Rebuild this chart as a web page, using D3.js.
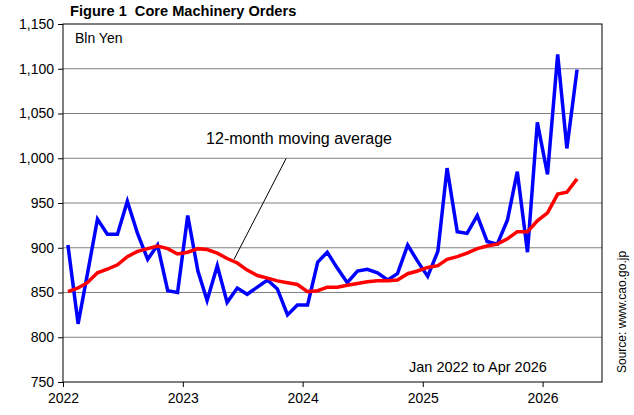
<!DOCTYPE html>
<html>
<head>
<meta charset="utf-8">
<script src="https://cdn.jsdelivr.net/npm/d3@7"></script>
<style>
  body { margin: 0; background: #fff; }
  svg { font-family: "Liberation Sans", Arial, sans-serif; }
</style>
</head>
<body>
<svg id="chart" width="634" height="415"></svg>
<script>
// monthly core machinery orders, Jan 2022 .. Apr 2026 (bln yen)
var months = d3.timeMonth.range(new Date(2022, 0, 1), new Date(2026, 4, 1));
var orders = [903, 815, 870, 932, 915, 915, 952, 916, 887, 903, 852, 850,
              936, 874, 841, 880, 839, 855, 848, 856, 864, 854, 825, 836,
              836, 884, 895, 877, 861, 874, 876, 872, 864, 871, 903, 885,
              868, 896, 989, 918, 916, 936, 907, 904, 931, 985, 895, 1040,
              982, 1116, 1011, 1099];
var movingAvg = [851, 855, 861, 872, 876, 881, 890, 896, 899, 902, 899, 893,
                 895, 899, 898, 894, 888, 883, 875, 869, 866, 863, 861, 859,
                 851, 852, 856, 856, 858, 860, 862, 863, 863, 864, 871, 874,
                 878, 880, 887, 890, 894, 899, 902, 904, 910, 918, 918, 930,
                 939, 960, 962, 977];
var yTicks = [750, 800, 850, 900, 950, 1000, 1050, 1100, 1150];
var xTicks = [2022, 2023, 2024, 2025, 2026];

var margin = {left: 63, top: 24, right: 32, bottom: 33},
    width = 634 - margin.left - margin.right,
    height = 415 - margin.top - margin.bottom;

var svg = d3.select('#chart');
var g = svg.append('g')
    .attr('transform', 'translate(' + margin.left + ',' + margin.top + ')');

var x = d3.scaleTime()
    .domain([new Date(2022, 0, 1), new Date(2026, 6, 1)])
    .range([0, width]);
var y = d3.scaleLinear().domain([750, 1150]).range([height, 0]);

// mid-month position
var mid = function(d) { return x(d3.timeDay.offset(d, 15)); };

// grid
g.selectAll('line.grid')
    .data(yTicks.slice(1, -1))
    .enter().append('line')
        .attr('class', 'grid')
        .attr('x1', 0).attr('x2', width)
        .attr('y1', y).attr('y2', y)
        .attr('stroke', '#808080')
        .attr('stroke-width', 1);

// axes
var fmt = d3.format(',');
var axisY = d3.axisLeft(y).tickValues(yTicks).tickFormat(fmt)
    .tickSize(5).tickPadding(4);
var axisX = d3.axisBottom(x)
    .tickValues(xTicks.map(function(yr) { return new Date(yr, 0, 1); }))
    .tickFormat(d3.timeFormat('%Y'))
    .tickSize(5).tickPadding(6);

var $y = g.append('g').attr('class', 'y axis').call(axisY);
var $x = g.append('g').attr('class', 'x axis')
    .attr('transform', 'translate(0,' + height + ')').call(axisX);

[$x, $y].forEach(function(a) {
    a.select('.domain').remove();
    a.selectAll('.tick line').attr('stroke', '#000');
    a.selectAll('.tick text')
        .attr('fill', '#000')
        .style('font-size', '14px')
        .style('font-family', '"Liberation Sans", Arial, sans-serif');
});

// box
g.append('rect')
    .attr('x', 0).attr('y', 0)
    .attr('width', width).attr('height', height)
    .attr('fill', 'none')
    .attr('stroke', '#000')
    .attr('stroke-width', 1);

// lines
var line = function(vals) {
    return d3.line()
        .x(function(d, i) { return mid(months[i]); })
        .y(function(d) { return y(d); })(vals);
};

g.append('path')
    .attr('d', line(orders))
    .attr('fill', 'none')
    .attr('stroke', '#0000ff')
    .attr('stroke-width', 3.5)
    .attr('stroke-linejoin', 'miter');

g.append('path')
    .attr('d', line(movingAvg))
    .attr('fill', 'none')
    .attr('stroke', '#ff0000')
    .attr('stroke-width', 3.5);

// annotation
g.append('line')
    .attr('x1', x(new Date(2023, 10, 12))).attr('y1', y(1000))
    .attr('x2', x(new Date(2023, 5, 6))).attr('y2', y(887))
    .attr('stroke', '#000')
    .attr('stroke-width', 1);

g.append('text')
    .attr('x', x(new Date(2023, 2, 13)))
    .attr('y', y(1016))
    .style('font-size', '16px')
    .text('12-month moving average');

g.append('text')
    .attr('x', 12).attr('y', 19)
    .style('font-size', '14px')
    .text('Bln Yen');

g.append('text')
    .attr('x', 346).attr('y', 348)
    .style('font-size', '14.5px')
    .text('Jan 2022 to Apr 2026');

svg.append('text')
    .attr('x', 70).attr('y', 16)
    .style('font-size', '14.6px')
    .style('font-weight', 'bold')
    .text('Figure 1  Core Machinery Orders')
    .attr('xml:space', 'preserve')
    .style('white-space', 'pre');

svg.append('text')
    .attr('transform', 'translate(626,373) rotate(-90)')
    .style('font-size', '12px')
    .text('Source: www.cao.go.jp');
</script>
</body>
</html>
